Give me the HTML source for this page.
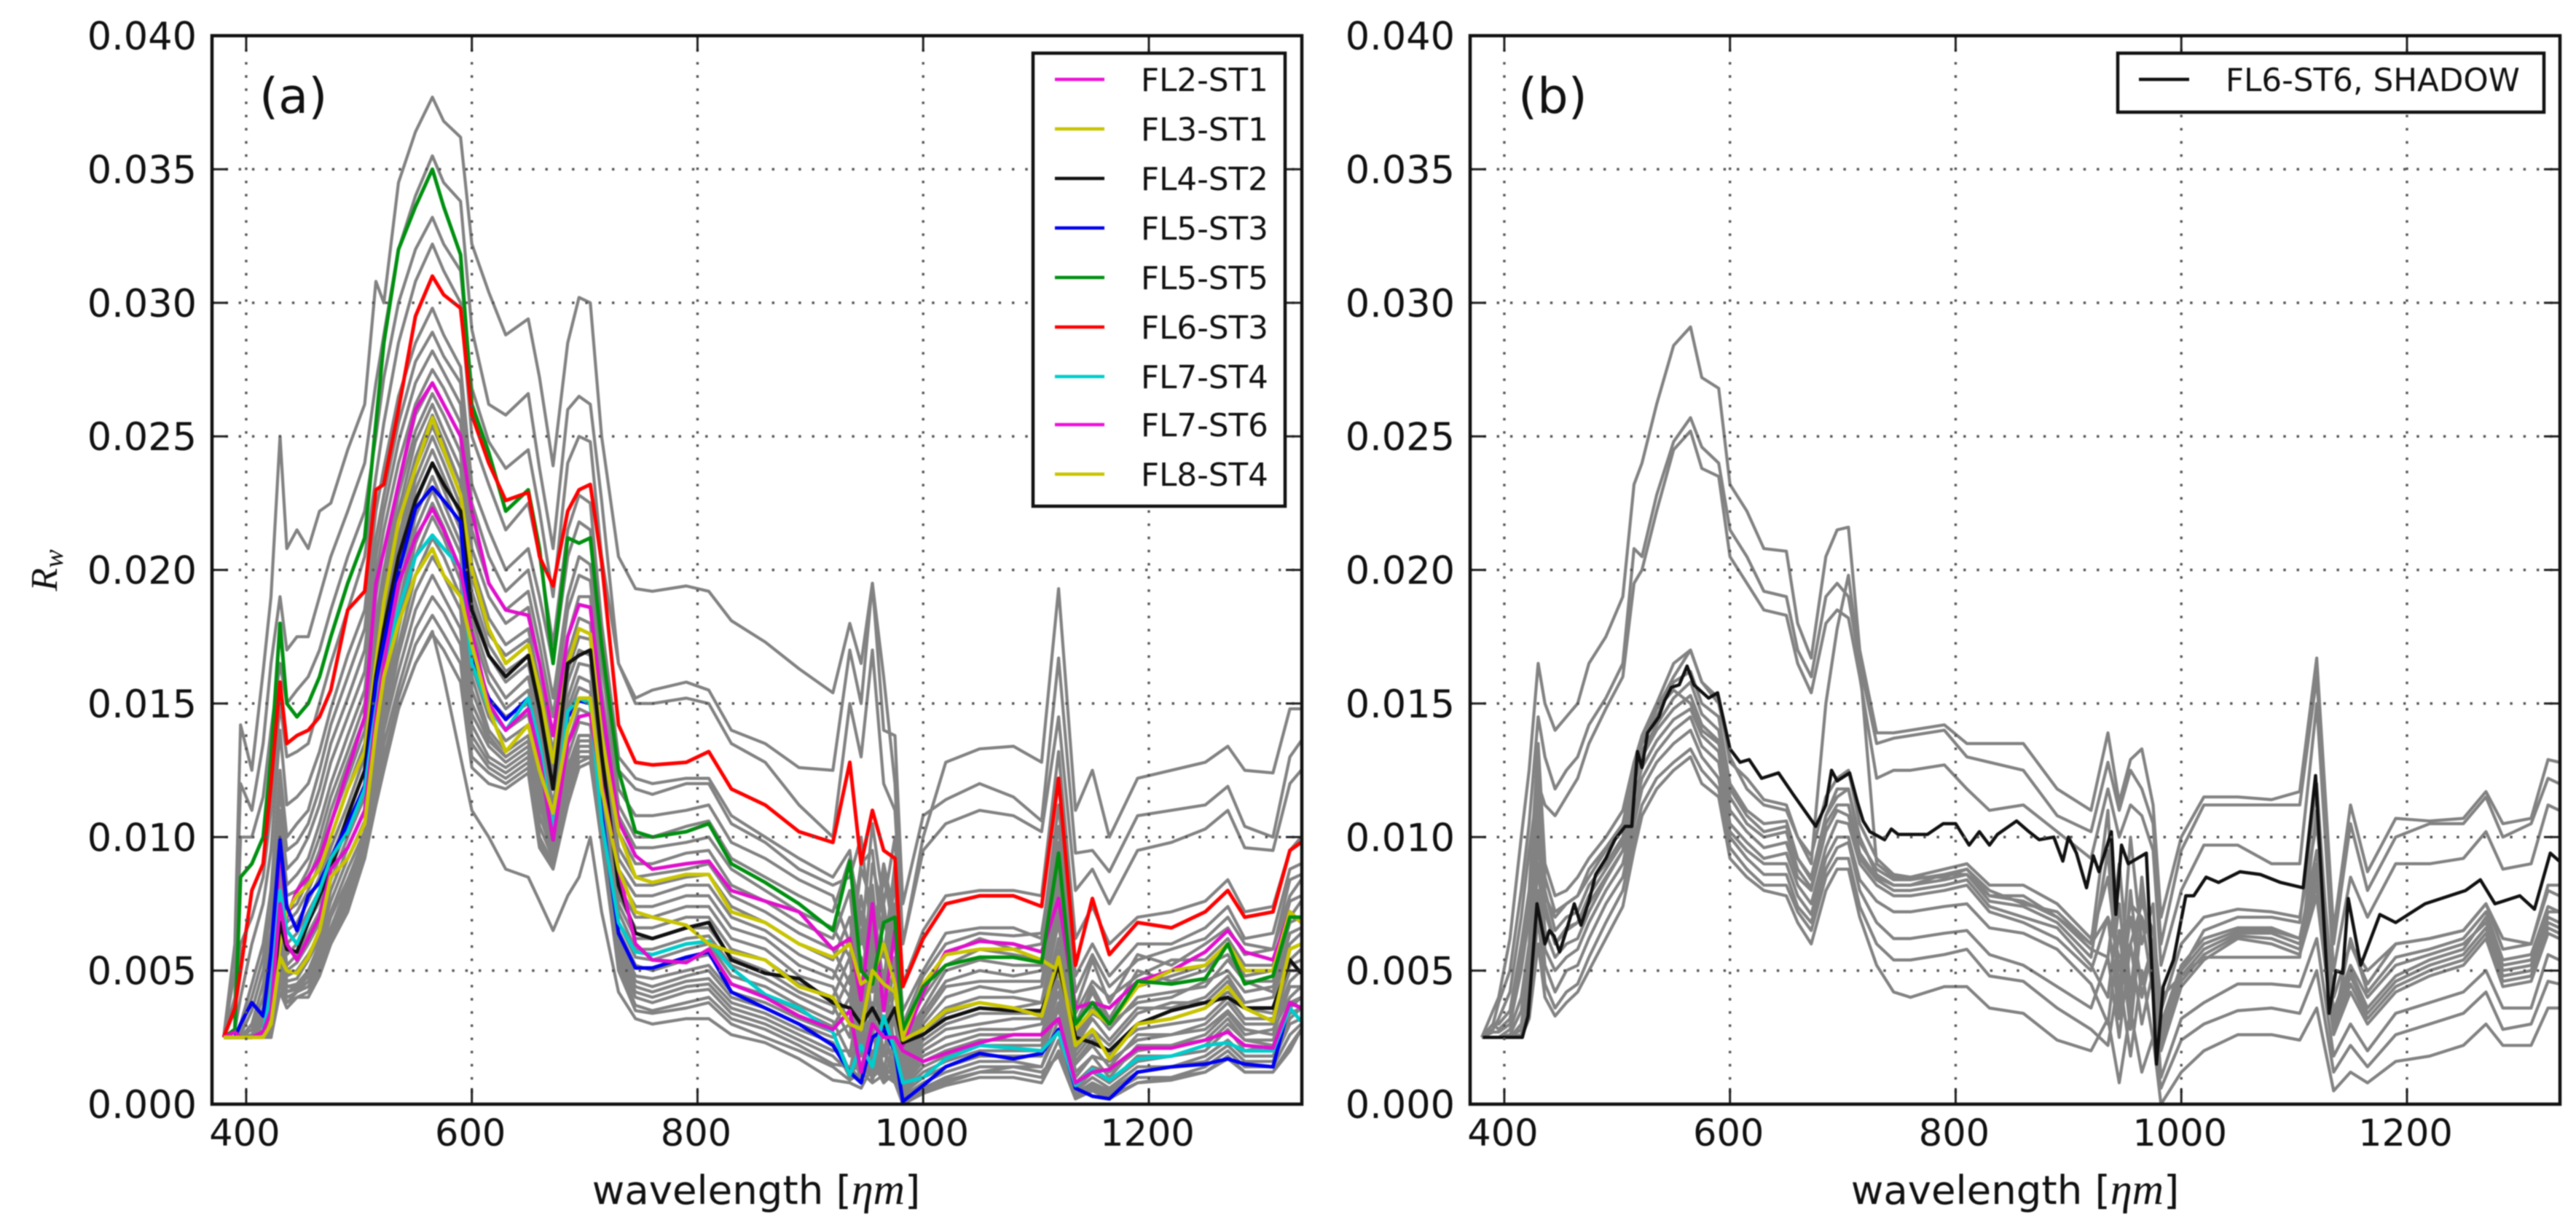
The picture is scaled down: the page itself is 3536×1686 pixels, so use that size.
<!DOCTYPE html>
<html lang="en">
<head>
<meta charset="utf-8">
<title>Water reflectance spectra</title>
<style>
html,body{margin:0;padding:0;background:#fff;width:3536px;height:1686px;overflow:hidden}
svg{display:block;filter:blur(0.8px)}
text{font-family:"DejaVu Sans","Liberation Sans",sans-serif;fill:#111}
.math{font-family:"Liberation Serif",serif;font-style:italic}
</style>
</head>
<body>
<svg id="figure" xmlns="http://www.w3.org/2000/svg" width="3536" height="1686" viewBox="0 0 3536 1686">
<defs>
<clipPath id="clipA"><rect x="291" y="49" width="1496" height="1467"/></clipPath>
<clipPath id="clipB"><rect x="2018" y="49" width="1496" height="1467"/></clipPath>
</defs>
<rect width="3536" height="1686" fill="#fff"/>
<g id="linesA" clip-path="url(#clipA)"></g>
<g id="linesB" clip-path="url(#clipB)"></g>
<g id="gridA"></g>
<g id="gridB"></g>
<g id="axesA"></g>
<g id="axesB"></g>

<text x="356" y="155" font-size="67">(a)</text>
<text x="2084" y="155" font-size="67">(b)</text>

<text x="1038" y="1653" font-size="54.5" text-anchor="middle">wavelength [<tspan class="math" font-size="60">ηm</tspan>]</text>
<text x="2766" y="1653" font-size="54.5" text-anchor="middle">wavelength [<tspan class="math" font-size="60">ηm</tspan>]</text>
<text transform="translate(78,783) rotate(-90)" font-size="52" text-anchor="middle" class="math">R<tspan font-size="38" dy="8">w</tspan></text>

<g>
<rect x="1418" y="73" width="346" height="622" fill="#fff" stroke="#111" stroke-width="4.5"/>
<g font-size="43.6">
<line x1="1448" x2="1516" y1="109" y2="109" stroke="#f010d8" stroke-width="4.5"/><text x="1566" y="125">FL2-ST1</text>
<line x1="1448" x2="1516" y1="177" y2="177" stroke="#c8c400" stroke-width="4.5"/><text x="1566" y="193">FL3-ST1</text>
<line x1="1448" x2="1516" y1="245" y2="245" stroke="#111" stroke-width="4.5"/><text x="1566" y="261">FL4-ST2</text>
<line x1="1448" x2="1516" y1="313" y2="313" stroke="#0000f0" stroke-width="4.5"/><text x="1566" y="329">FL5-ST3</text>
<line x1="1448" x2="1516" y1="381" y2="381" stroke="#009010" stroke-width="4.5"/><text x="1566" y="397">FL5-ST5</text>
<line x1="1448" x2="1516" y1="449" y2="449" stroke="#ff0000" stroke-width="4.5"/><text x="1566" y="465">FL6-ST3</text>
<line x1="1448" x2="1516" y1="517" y2="517" stroke="#00cccc" stroke-width="4.5"/><text x="1566" y="533">FL7-ST4</text>
<line x1="1448" x2="1516" y1="583" y2="583" stroke="#f010d8" stroke-width="4.5"/><text x="1566" y="599">FL7-ST6</text>
<line x1="1448" x2="1516" y1="651" y2="651" stroke="#c8c400" stroke-width="4.5"/><text x="1566" y="667">FL8-ST4</text>
</g>
</g>

<g>
<rect x="2907" y="73" width="585" height="81" fill="#fff" stroke="#111" stroke-width="4.5"/>
<line x1="2936" x2="3005" y1="109" y2="109" stroke="#111" stroke-width="4.5"/>
<text x="3055" y="125" font-size="43.6">FL6-ST6, SHADOW</text>
</g>
</svg>

<script>
// Shared sampling wavelengths (nm). Series values are reflectance x 10^-4.
const wavelengths=[380,390,395,405,415,422,430,436,445,455,
465,475,490,505,515,522,535,550,565,575,
590,600,615,630,650,660,672,685,695,705,
715,730,745,760,790,810,830,860,890,920,
935,945,955,965,975,982,1000,1020,1050,1080,
1105,1120,1135,1150,1165,1190,1220,1250,1270,1285,1310,1325,1335];

const xTickValues=[400,600,800,1000,1200];
const xTickLabels=["400","600","800","1000","1200"];
const yTickValues=[0,50,100,150,200,250,300,350,400];
const yTickLabels=["0.000","0.005","0.010","0.015","0.020","0.025","0.030","0.035","0.040"];

const grayA1=[25,60,142,125,162,190,250,208,215,208,222,225,245,262,308,300,345,364,377,368,362,322,304,288,294,272,239,285,302,300,250,205,193,192,194,192,181,173,163,154,180,165,195,160,120,60,100,128,133,134,128,193,110,125,100,122,125,128,134,125,124,148,148];
const grayA2=[25,50,120,110,135,165,190,170,175,175,190,205,222,240,270,288,320,340,355,345,338,290,262,258,266,238,208,260,265,262,226,165,152,155,158,155,140,135,126,125,170,150,195,140,138,75,108,114,120,115,106,167,94,95,87,108,110,112,119,104,100,130,136];
const grayA3=[25,40,100,100,115,140,165,150,155,160,170,185,205,222,250,272,300,320,332,322,312,268,248,238,245,222,190,240,250,248,205,165,150,150,152,150,135,128,112,100,150,130,170,120,110,60,95,105,110,108,102,145,80,88,75,95,98,103,110,96,95,120,125];
const grayA4=[25,35,60,70,85,110,150,130,132,135,150,165,185,205,235,255,285,308,322,312,300,250,232,215,225,205,172,215,228,225,180,130,122,120,122,122,108,100,92,85,95,60,105,75,100,45,65,78,80,80,78,132,62,74,60,70,72,76,84,72,74,95,100];
const grayA5=[25,28,40,60,75,95,140,112,115,120,132,148,168,185,222,238,265,285,298,288,276,232,215,200,208,190,165,205,218,215,175,125,118,116,120,120,105,98,88,82,85,100,60,90,70,35,50,64,66,66,62,112,48,60,48,60,60,66,74,62,64,88,90];
const grayA6=[25,25,30,45,60,80,125,100,105,110,125,142,160,178,212,228,255,278,289,280,270,225,205,192,200,180,152,190,205,202,165,118,108,108,110,112,98,92,84,78,60,90,95,55,90,30,48,60,64,63,64,104,42,56,44,54,58,62,70,60,58,84,86];
const grayA7=[25,25,28,40,55,72,118,95,98,105,118,135,152,170,205,222,248,270,282,274,262,215,195,185,192,172,145,185,198,196,155,112,100,100,104,106,92,85,78,72,92,70,55,88,60,28,44,56,62,58,60,98,36,54,38,56,52,60,66,56,58,78,84];
const grayA8=[25,25,26,35,50,65,110,88,92,100,112,128,145,162,198,215,240,262,275,268,255,208,190,180,186,165,138,175,190,190,150,108,96,96,98,100,88,80,72,66,55,88,75,45,85,26,40,52,58,56,54,90,34,46,40,48,54,54,62,52,52,76,78];
const grayA9=[25,25,25,30,45,60,105,82,86,92,105,120,138,155,190,208,232,258,270,262,250,202,182,172,178,158,132,168,182,180,142,102,90,90,94,95,82,76,68,62,80,40,90,70,50,24,36,50,54,52,52,86,30,44,32,50,46,50,60,48,50,70,76];
const grayA10=[25,25,25,28,40,55,100,78,80,88,100,115,132,150,182,200,228,252,266,258,244,198,176,168,174,152,126,162,175,174,136,96,85,86,88,90,78,72,64,58,45,78,50,85,65,22,34,46,50,48,50,82,28,42,30,44,48,52,56,46,46,68,70];
const grayA11=[25,25,25,26,36,50,95,72,75,84,95,110,128,145,178,195,222,248,262,252,238,192,172,162,168,148,122,158,170,168,130,92,82,82,85,86,74,68,60,54,70,35,82,40,75,20,32,44,46,46,46,78,26,36,28,40,42,44,54,46,42,64,66];
const grayA12=[25,25,25,25,34,46,90,68,72,80,90,105,122,140,172,190,218,242,258,248,232,188,168,158,165,145,118,152,165,164,126,88,78,78,82,82,70,65,56,50,40,72,30,75,45,18,30,40,44,42,44,74,24,34,30,38,40,46,50,42,44,60,64];
const grayA13=[25,25,25,25,32,44,86,65,68,76,85,100,118,135,168,185,212,238,254,244,228,182,162,152,160,140,112,148,160,158,122,85,74,74,78,78,66,62,52,47,62,28,70,35,68,16,28,36,40,40,38,70,22,32,24,36,36,40,48,38,40,58,60];
const grayA14=[25,25,25,25,30,42,82,60,64,72,80,96,112,130,162,180,208,234,250,240,224,178,158,148,155,135,108,145,156,154,118,82,70,70,74,74,62,58,48,44,30,65,42,60,30,14,26,34,38,36,38,68,20,28,22,34,38,38,46,36,36,54,58];
const grayA15=[25,25,25,25,28,40,78,56,60,68,76,92,108,125,158,175,202,230,245,235,220,172,152,145,150,130,105,140,152,150,114,78,66,66,70,70,58,54,45,40,55,22,60,25,55,12,24,30,34,34,34,62,18,26,18,30,32,36,42,36,34,52,54];
const grayA16=[25,25,25,25,26,38,75,52,56,64,72,88,104,120,152,170,198,225,240,230,215,168,148,140,146,126,100,135,148,146,110,75,62,62,66,66,55,50,42,37,25,55,25,50,20,10,22,28,30,32,32,58,16,24,20,28,30,32,40,32,32,50,50];
const grayA17=[25,25,25,25,26,36,72,50,53,60,68,84,100,115,148,165,192,220,235,225,210,164,145,136,142,122,96,130,143,142,106,72,58,58,62,63,52,47,40,34,48,18,50,18,45,9,20,25,28,28,30,54,15,22,14,26,26,30,38,30,30,46,50];
const grayA18=[25,25,25,25,25,34,70,48,50,56,64,80,96,110,142,160,186,215,230,220,206,160,140,132,138,118,92,126,138,138,102,68,55,54,58,60,48,44,37,31,18,45,15,42,15,8,18,22,26,26,26,50,12,18,16,24,26,28,35,28,26,44,44];
const grayA19=[25,25,25,25,25,32,66,46,47,54,62,76,92,106,138,155,182,210,225,216,200,155,138,130,136,114,94,124,136,136,100,65,52,50,54,56,45,41,35,29,40,12,38,12,35,7,16,20,24,24,24,46,10,18,10,22,22,26,34,26,28,40,44];
const grayA20=[25,25,25,25,25,30,62,44,45,50,60,72,88,102,135,150,178,205,220,212,196,150,136,130,136,114,98,125,138,138,100,62,48,47,50,52,42,38,32,27,12,35,10,30,10,6,14,18,22,22,22,42,8,14,12,20,22,24,32,24,24,38,40];
const grayA21=[25,25,25,25,25,28,58,42,43,48,56,70,84,98,130,146,172,198,212,205,190,146,134,128,134,112,96,125,136,136,100,60,46,44,48,50,40,36,30,25,30,8,28,8,25,5,12,16,20,20,20,38,7,14,8,18,18,22,30,24,22,36,40];
const grayA22=[25,25,25,25,25,27,55,44,44,50,58,70,84,100,126,142,168,192,205,198,185,142,130,126,132,108,94,122,134,134,100,58,44,42,46,47,38,34,28,23,10,25,9,22,8,4,10,14,18,18,18,36,6,12,8,16,18,20,28,20,22,34,36];
const grayA23=[25,25,25,25,25,26,52,42,44,48,56,66,82,98,122,140,162,185,198,190,178,138,128,124,130,104,92,120,132,132,100,56,42,40,44,45,36,32,26,20,20,10,20,10,15,3,8,12,16,16,14,32,5,10,6,14,14,18,24,18,18,32,36];
const grayA24=[25,25,25,25,25,25,50,40,42,46,54,64,80,96,118,135,156,178,190,184,172,135,126,122,128,100,90,118,130,130,100,54,40,38,42,43,34,30,24,18,12,15,10,14,10,2,6,10,14,14,14,28,4,8,5,12,14,16,22,16,16,30,32];
const grayA25=[25,25,25,25,25,25,48,38,42,44,52,62,78,94,116,130,152,172,183,176,165,130,124,120,126,98,89,116,128,130,100,52,37,35,38,40,32,28,22,15,14,9,16,8,12,1,5,9,12,12,10,24,3,7,4,10,10,14,20,14,14,26,30];
const grayA26=[25,25,25,25,25,25,45,38,40,42,50,60,75,92,115,128,148,165,176,170,158,126,120,118,124,96,88,112,126,128,98,50,35,34,36,38,30,25,20,14,9,12,8,11,8,1,4,7,10,10,8,20,2,6,3,8,10,12,18,12,12,22,28];
const grayA27=[25,25,25,25,25,25,42,36,40,40,48,60,72,92,112,125,148,165,177,160,130,110,100,88,85,76,65,78,85,100,72,42,32,30,32,32,26,23,17,9,8,6,14,12,8,0,4,8,12,14,12,18,2,5,2,8,9,12,17,12,12,20,28];

const fl2st1=[25,25,25,25,27,40,98,70,80,85,92,105,125,145,195,207,232,260,270,262,250,222,195,185,183,165,138,175,187,186,150,106,93,88,90,91,80,76,72,58,62,39,75,35,65,22,42,57,61,60,57,77,36,38,36,46,50,57,65,57,54,72,68];
const fl3st1=[25,25,25,25,25,32,60,72,78,82,88,100,118,132,165,188,218,238,257,245,228,200,178,165,172,155,128,165,178,176,138,102,85,83,86,86,72,68,60,55,60,45,48,60,45,25,45,56,58,58,54,50,28,35,30,44,50,52,60,50,50,72,68];
const fl4st2=[25,25,25,25,27,35,68,58,57,68,78,88,108,125,160,178,205,226,240,232,222,185,168,160,168,148,118,165,168,170,131,82,64,62,66,68,54,49,47,38,36,30,36,28,36,23,26,32,36,35,35,52,25,23,20,30,35,38,40,36,36,54,49];
const fl5st3=[25,25,30,38,33,57,99,74,65,78,83,92,105,119,158,173,199,223,231,226,218,167,152,144,152,130,99,145,151,150,109,64,51,51,55,57,42,36,30,22,12,8,25,28,20,1,7,14,19,17,19,28,6,3,2,12,14,15,17,15,14,38,36];
const fl5st5=[25,28,85,90,100,130,180,150,145,150,160,175,195,212,255,285,320,336,350,336,318,262,244,222,230,208,165,212,210,212,172,125,102,100,102,105,90,83,75,65,91,50,45,68,70,28,44,52,55,55,53,94,30,38,30,46,45,47,60,45,48,70,70];
const fl6st3=[25,36,50,80,90,120,158,135,138,140,145,155,185,192,230,232,260,295,310,303,298,258,240,226,229,205,194,222,230,232,203,142,128,127,128,132,118,112,102,98,128,90,110,95,92,44,62,75,78,78,74,122,52,77,56,68,66,72,80,70,72,95,98];
const fl7st4=[25,25,25,25,27,42,80,65,60,70,80,92,102,118,148,165,185,205,213,208,201,165,148,140,152,135,102,147,152,150,106,68,57,56,60,61,51,41,36,27,11,22,14,33,20,8,10,17,22,21,20,27,7,13,9,17,18,22,23,20,20,36,31];
const fl7st6=[25,27,25,25,27,35,75,60,54,62,70,88,96,110,145,165,195,212,223,215,200,176,150,140,148,130,99,135,145,146,120,88,60,54,53,58,45,40,33,28,35,12,30,25,25,20,16,19,23,26,26,32,8,12,13,21,21,24,27,22,21,38,36];
const fl8st4=[25,25,25,25,25,30,55,50,49,55,65,85,92,105,140,160,180,198,208,198,190,172,148,132,142,125,109,140,152,152,118,88,72,70,67,60,57,54,44,40,30,28,50,45,42,24,28,35,38,36,33,55,22,28,17,30,32,36,44,36,31,58,60];

const grayB1=[25,35,40,62,100,125,165,150,140,145,150,165,175,190,232,240,262,284,291,272,268,232,222,208,207,180,167,205,215,216,170,139,139,140,142,135,135,135,118,110,139,113,129,133,112,70,100,115,115,114,117,167,65,112,87,107,106,107,117,105,107,129,128];
const grayB2=[25,30,38,50,80,105,145,130,118,125,130,142,152,165,208,205,228,248,257,246,240,215,205,192,190,170,160,190,195,190,165,135,137,138,140,130,128,125,108,102,128,110,125,118,105,60,95,112,112,112,112,160,60,105,80,100,105,105,115,100,105,122,120];
const grayB3=[25,28,32,42,70,95,120,112,108,115,122,135,148,160,195,200,222,245,252,238,235,205,195,185,183,165,154,180,185,182,160,122,125,125,127,118,110,112,102,92,118,100,112,108,95,52,80,97,97,90,90,150,50,85,70,90,90,92,102,88,90,112,110];
const grayB4=[25,25,25,25,25,40,100,75,60,65,68,75,85,95,125,135,148,160,170,158,152,128,122,114,112,100,90,150,178,198,165,90,85,85,85,88,80,75,72,60,70,55,60,75,65,40,48,55,55,55,55,110,40,60,50,60,62,65,75,62,60,82,82];
const grayB5=[25,30,30,35,60,80,135,90,78,80,85,92,100,110,128,138,150,165,170,158,150,130,118,112,110,100,93,115,122,125,105,92,86,85,88,90,82,82,75,62,85,50,75,70,60,35,60,70,73,72,70,105,40,60,45,60,62,65,75,58,60,80,78];
const grayB6=[25,27,27,30,50,70,125,85,72,75,78,88,96,105,125,135,145,158,162,150,145,120,110,105,106,92,84,108,115,118,98,88,84,84,86,88,78,76,70,58,55,90,42,80,52,30,52,62,66,66,62,95,35,52,40,52,56,60,68,52,54,72,72];
const grayB7=[25,25,25,28,40,60,115,80,65,70,72,82,90,100,122,132,142,152,158,146,140,115,105,100,102,88,81,105,112,112,94,85,82,82,84,86,76,74,68,55,95,38,70,45,60,28,50,60,65,65,62,90,32,50,36,48,54,58,70,50,52,70,68];
const grayB8=[25,25,25,26,35,55,108,72,60,66,68,78,88,98,120,130,140,148,153,142,136,110,102,96,98,85,80,102,110,108,92,84,80,80,82,84,74,70,66,52,40,75,35,85,48,25,48,58,64,64,60,86,30,48,34,46,52,56,66,48,50,68,66];
const grayB9=[25,25,25,25,30,50,100,65,55,60,62,72,84,95,115,126,136,144,148,138,132,105,98,92,94,82,75,96,106,105,90,82,78,78,80,82,72,68,62,50,70,32,80,40,60,22,46,56,63,62,58,82,28,45,32,44,50,54,64,46,48,66,64];
const grayB10=[25,25,25,25,28,45,90,58,50,55,58,68,80,90,110,122,132,140,145,134,128,102,95,90,90,78,71,92,100,100,84,76,72,72,74,75,66,64,58,45,30,65,28,70,42,20,44,54,62,60,56,78,26,42,30,42,48,52,62,44,46,64,62];
const grayB11=[25,25,25,25,26,40,80,52,42,50,52,62,75,85,105,118,128,135,140,130,122,100,92,86,86,74,68,88,96,98,80,68,62,62,64,65,56,52,44,36,55,25,60,30,50,10,32,38,45,45,44,62,18,30,20,34,38,42,50,36,36,56,54];
const grayB12=[25,25,25,25,25,35,70,45,36,42,45,55,68,80,100,112,122,128,133,125,118,96,88,82,82,72,65,85,92,92,74,60,54,54,56,58,48,46,36,28,22,48,18,50,24,6,24,30,35,36,34,50,12,22,14,26,30,34,42,28,30,46,45];
const grayB13=[25,25,25,25,25,32,60,40,33,38,42,50,62,74,95,108,118,125,130,120,115,92,85,80,78,68,60,80,88,88,70,52,42,40,44,44,36,34,24,20,32,8,35,12,25,0,12,20,26,26,24,36,5,12,8,16,18,22,30,22,22,36,36];
const grayB14=[25,30,28,32,55,78,120,78,70,75,78,85,95,105,125,135,148,155,150,140,135,118,108,102,104,92,85,108,118,118,100,86,82,82,86,86,78,78,70,60,110,40,100,60,75,25,50,65,70,70,68,120,30,62,42,55,58,62,72,54,56,74,72];

const shadowWavelengths=[381,416,421,429,436,440,444,449,455,462,468,475,481,490,498,507,513,518,522,527,537,542,548,555,562,568,581,589,600,609,617,628,643,656,676,685,690,695,706,713,718,724,737,743,749,775,789,800,812,821,830,837,854,865,874,887,895,900,907,916,922,927,938,942,947,953,969,978,984,993,1004,1011,1022,1033,1052,1070,1088,1108,1119,1131,1137,1143,1148,1159,1176,1190,1216,1252,1265,1278,1300,1313,1327,1335];
const fl6st6Shadow=[25,25,33,75,60,65,63,57,65,75,67,76,86,92,99,104,104,132,126,139,145,151,156,157,164,157,152,154,133,128,129,122,124,116,104,112,125,121,124,113,106,102,99,103,101,101,105,105,97,102,97,101,106,102,99,100,91,100,94,81,93,87,102,71,97,90,94,15,44,54,78,78,85,83,87,86,83,81,123,34,50,49,77,52,71,68,75,80,84,75,78,73,94,91];

const grayPanelA=[grayA1,grayA2,grayA3,grayA4,grayA5,grayA6,grayA7,grayA8,grayA9,grayA10,grayA11,grayA12,grayA13,grayA14,grayA15,grayA16,grayA17,grayA18,grayA19,grayA20,grayA21,grayA22,grayA23,grayA24,grayA25,grayA26,grayA27];
const grayPanelB=[grayB1,grayB2,grayB3,grayB4,grayB5,grayB6,grayB7,grayB8,grayB9,grayB10,grayB11,grayB12,grayB13,grayB14];
const colouredNames=["fl2-st1","fl3-st1","fl4-st2","fl5-st3","fl5-st5","fl6-st3","fl7-st4","fl7-st6","fl8-st4"];
const colouredSeries=[fl2st1,fl3st1,fl4st2,fl5st3,fl5st5,fl6st3,fl7st4,fl7st6,fl8st4];
const colouredStrokes=["#e010cc","#c8c400","#111111","#0000f0","#009010","#ff0000","#00cccc","#e010cc","#c8c400"];

const NS="http://www.w3.org/2000/svg";
const plotTop=49,plotBottom=1516,plotWidth=1496;
const xMin=369.7,xMax=1335.6,yMax=400;
function xScale(left,w){return left+(w-xMin)/(xMax-xMin)*plotWidth;}
function yScale(v){return plotBottom-v/yMax*(plotBottom-plotTop);}

function drawSeries(parent,left,xs,values,stroke,width,name){
  let d="";
  for(let i=0;i<values.length&&i<xs.length;i++){
    d+=(i?"L":"M")+xScale(left,xs[i]).toFixed(1)+" "+yScale(values[i]).toFixed(1);
  }
  const p=document.createElementNS(NS,"path");
  p.setAttribute("d",d);
  p.setAttribute("fill","none");
  p.setAttribute("stroke",stroke);
  p.setAttribute("stroke-width",width);
  p.setAttribute("stroke-linejoin","round");
  
  
  parent.appendChild(p);
}

function drawGrid(parent,left){
  xTickValues.forEach(function(t){
    const l=document.createElementNS(NS,"line");
    const x=xScale(left,t);
    l.setAttribute("x1",x);l.setAttribute("x2",x);
    l.setAttribute("y1",plotTop);l.setAttribute("y2",plotBottom);
    l.setAttribute("stroke","#555");l.setAttribute("stroke-width","3.4");
    l.setAttribute("stroke-dasharray","3.4 14.7");
    
    
    parent.appendChild(l);
  });
  yTickValues.slice(1,-1).forEach(function(t){
    const l=document.createElementNS(NS,"line");
    const y=yScale(t);
    l.setAttribute("x1",left);l.setAttribute("x2",left+plotWidth);
    l.setAttribute("y1",y);l.setAttribute("y2",y);
    l.setAttribute("stroke","#555");l.setAttribute("stroke-width","3.4");
    l.setAttribute("stroke-dasharray","3.4 14.9");
    
    
    parent.appendChild(l);
  });
}

function drawAxes(parent,left){
  const right=left+plotWidth;
  function tick(x1,y1,x2,y2){
    const l=document.createElementNS(NS,"line");
    l.setAttribute("x1",x1);l.setAttribute("y1",y1);l.setAttribute("x2",x2);l.setAttribute("y2",y2);
    l.setAttribute("stroke","#222");l.setAttribute("stroke-width","3");
    
    
    parent.appendChild(l);
  }
  xTickValues.forEach(function(t,i){
    const x=xScale(left,t);
    tick(x,plotBottom,x,plotBottom-22);
    tick(x,plotTop,x,plotTop+22);
    const s=document.createElementNS(NS,"text");
    s.setAttribute("x",x-2);s.setAttribute("y",1573);
    s.setAttribute("font-size","51");s.setAttribute("text-anchor","middle");
    s.textContent=xTickLabels[i];
    
    
    parent.appendChild(s);
  });
  yTickValues.forEach(function(t,i){
    const y=yScale(t);
    if(i>0&&i<yTickValues.length-1){
      tick(left,y,left+22,y);
      tick(right,y,right-22,y);
    }
    const s=document.createElementNS(NS,"text");
    s.setAttribute("x",left-21);s.setAttribute("y",y+19);
    s.setAttribute("font-size","52.5");s.setAttribute("text-anchor","end");
    s.textContent=yTickLabels[i];
    
    
    parent.appendChild(s);
  });
  const r=document.createElementNS(NS,"rect");
  r.setAttribute("x",left);r.setAttribute("y",plotTop);
  r.setAttribute("width",plotWidth);r.setAttribute("height",plotBottom-plotTop);
  r.setAttribute("fill","none");r.setAttribute("stroke","#111");r.setAttribute("stroke-width","4.5");
  
  
  parent.appendChild(r);
}

const leftA=291,leftB=2018;
const linesA=document.getElementById("linesA");
const linesB=document.getElementById("linesB");
grayPanelA.forEach(function(v,i){drawSeries(linesA,leftA,wavelengths,v,"#828282",4.2,"gray-spectrum-a-"+(i+1));});
colouredSeries.forEach(function(v,i){drawSeries(linesA,leftA,wavelengths,v,colouredStrokes[i],5,"spectrum-"+colouredNames[i]);});
grayPanelB.forEach(function(v,i){drawSeries(linesB,leftB,wavelengths,v,"#828282",4.2,"gray-spectrum-b-"+(i+1));});
drawSeries(linesB,leftB,shadowWavelengths,fl6st6Shadow,"#111111",4.5,"spectrum-fl6-st6-shadow");
drawGrid(document.getElementById("gridA"),leftA);
drawGrid(document.getElementById("gridB"),leftB);
drawAxes(document.getElementById("axesA"),leftA);
drawAxes(document.getElementById("axesB"),leftB);
</script>
</body>
</html>
